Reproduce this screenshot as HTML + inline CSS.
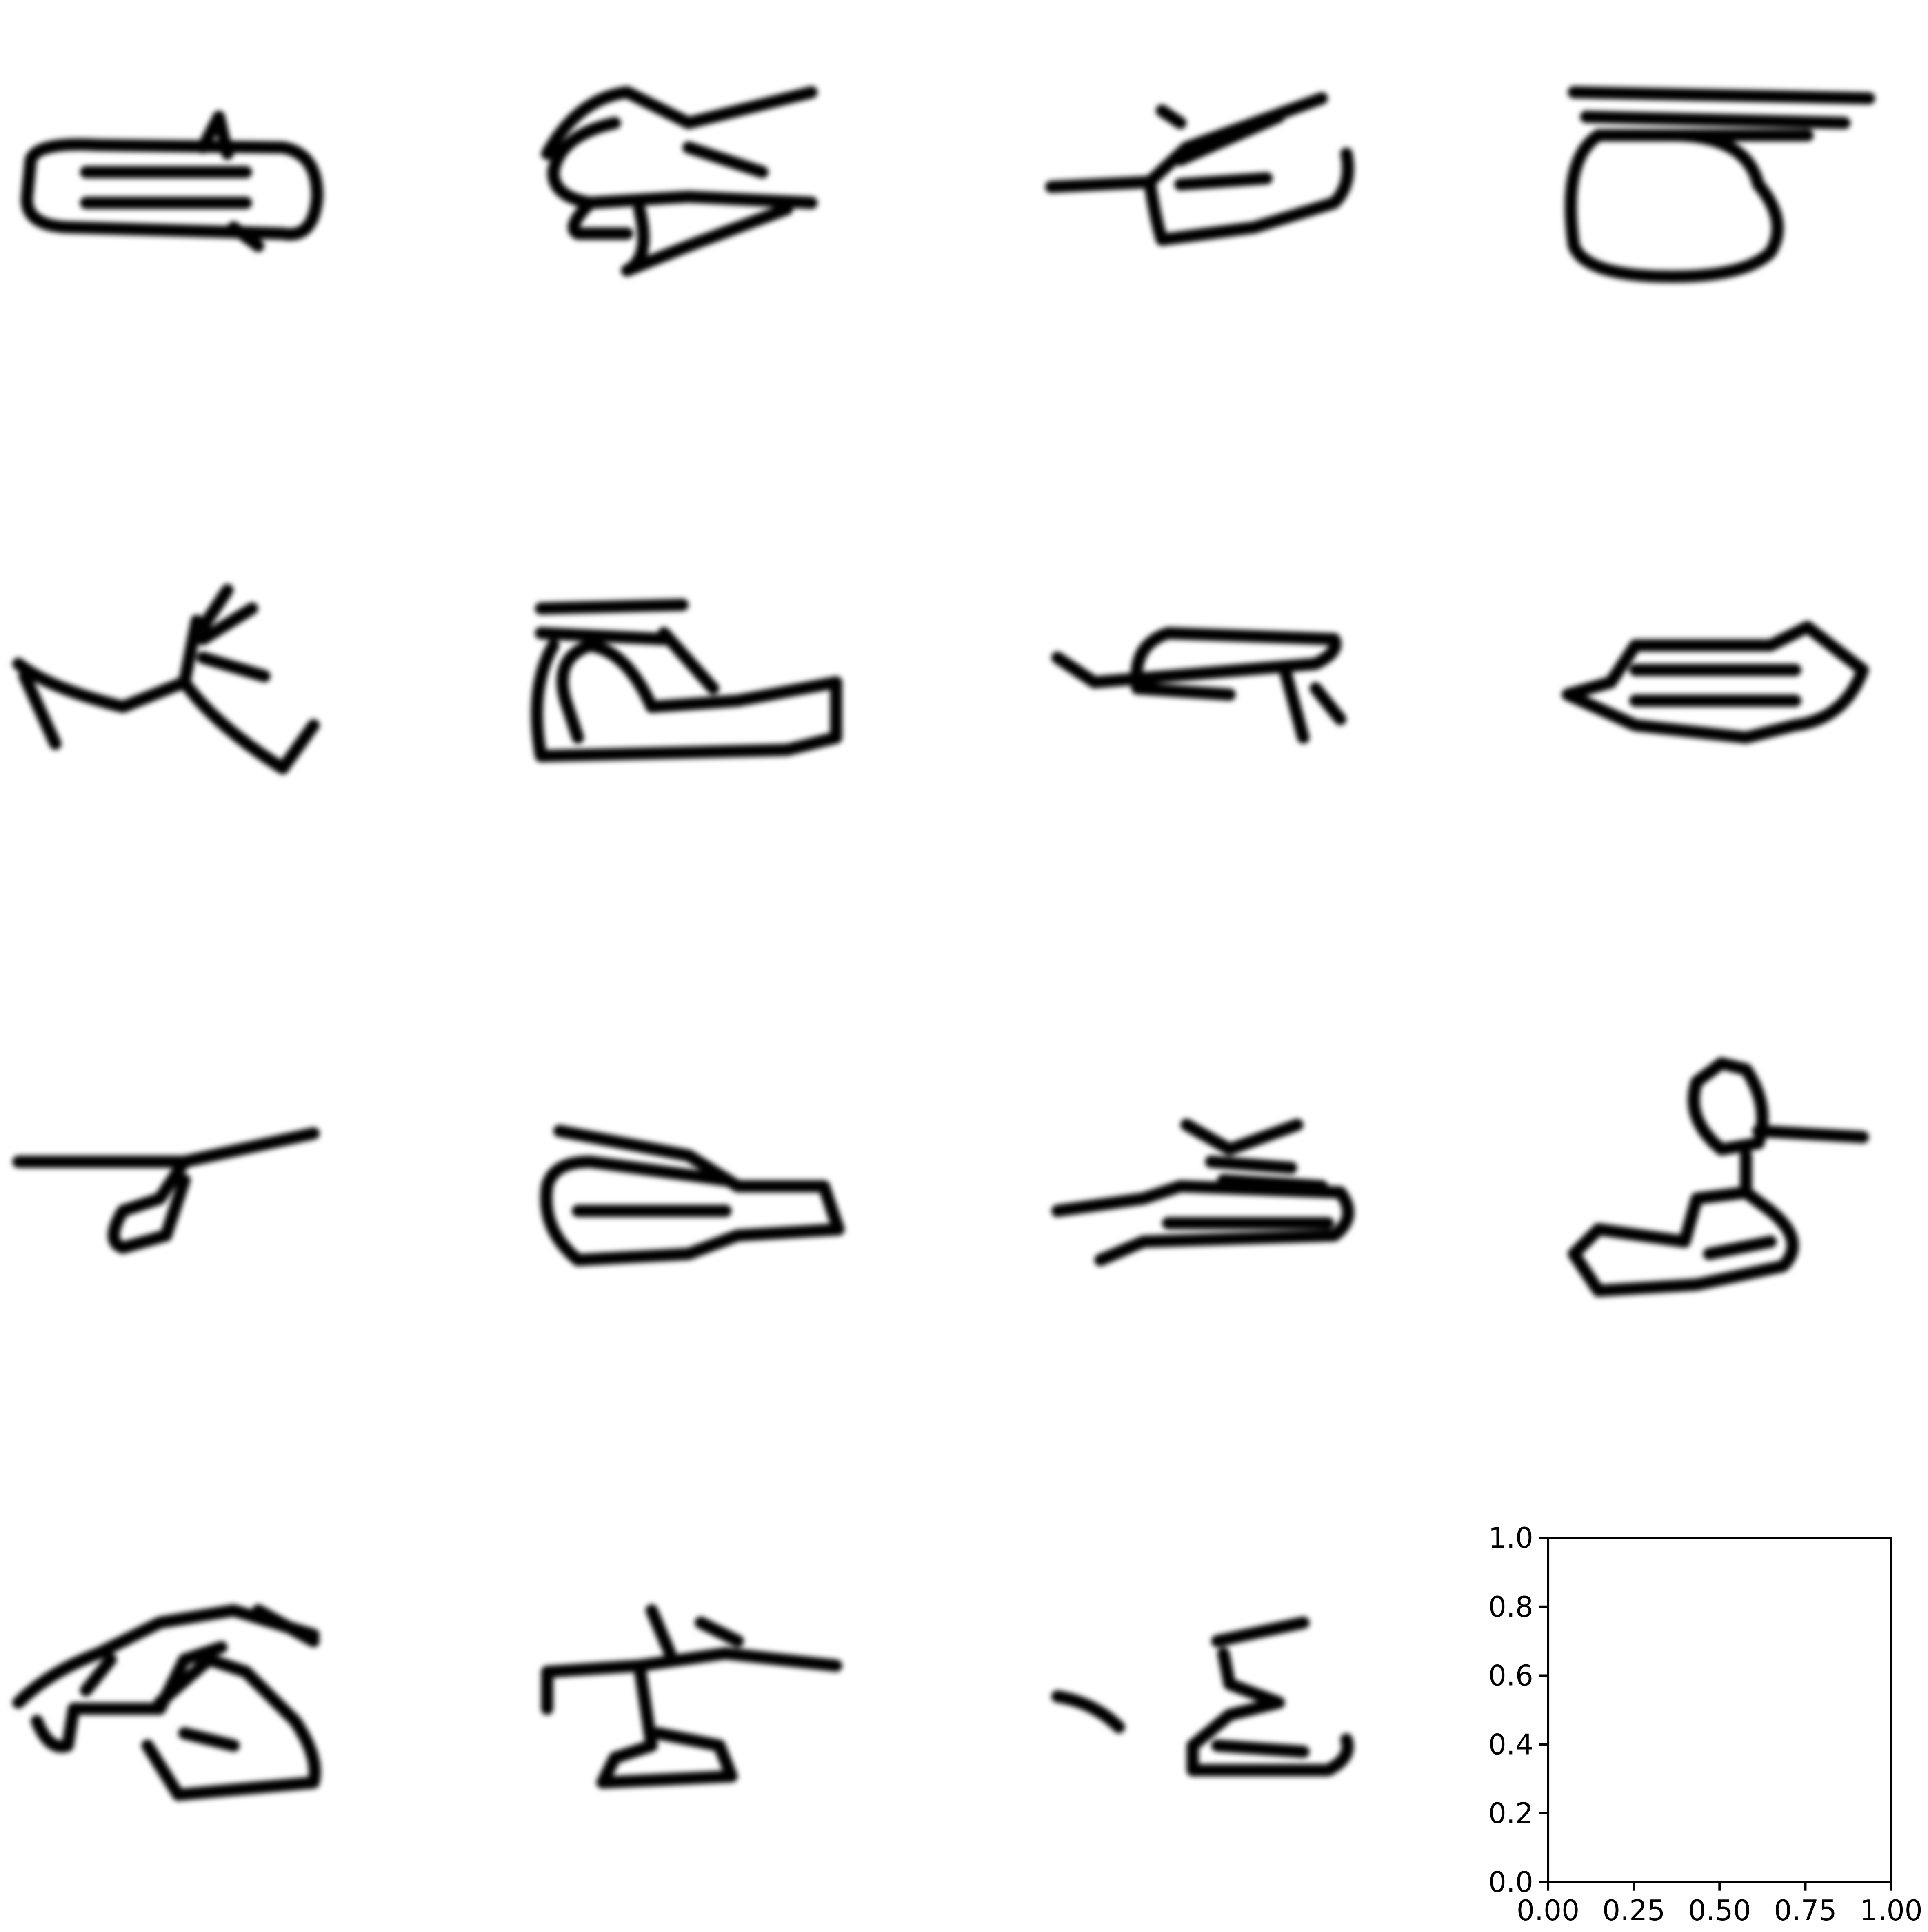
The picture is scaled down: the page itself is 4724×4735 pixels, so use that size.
<!DOCTYPE html>
<html><head><meta charset="utf-8"><style>html,body{margin:0;padding:0;background:#fff}svg{display:block}</style></head>
<body>
<svg width="4724" height="4735" viewBox="0 0 1568 1571.6" xmlns="http://www.w3.org/2000/svg">
<defs><filter id="bl" x="-10%" y="-10%" width="120%" height="120%"><feGaussianBlur stdDeviation="2.2"/></filter></defs>
<rect width="1568" height="1572" fill="#fff"/>
<g fill="none" stroke="#000" stroke-width="10" stroke-linecap="round" stroke-linejoin="round" filter="url(#bl)">
<path d="M25,130 Q30,115 80,118 L230,120 Q258,125 258,160 Q255,195 230,190 L60,185 Q20,185 22,160 Z M70,140 L200,140 M70,165 L200,165 M165,120 L178,95 L185,125 M190,185 L210,200"/>
<path d="M445,125 Q470,80 510,75 L560,100 M560,100 L660,75 M500,100 Q455,110 450,140 Q450,160 480,165 L560,160 L660,165 M560,120 L620,140 M520,170 Q530,210 510,220 L560,200 L640,170 M480,165 Q460,185 470,190 L510,190"/>
<path d="M855,152 L935,148 M935,148 L965,120 L1075,80 M945,90 L960,100 M960,130 L1040,95 M935,148 Q940,180 945,195 L1020,185 L1085,165 Q1100,150 1095,125 M960,150 L1030,145"/>
<path d="M1280,75 L1520,80 M1290,95 L1500,100 M1300,110 Q1270,130 1280,200 Q1290,225 1360,225 Q1420,225 1440,205 Q1455,180 1430,150 Q1420,110 1360,110 Z M1300,110 L1470,110"/>
<path d="M15,540 Q40,560 100,575 L150,555 Q175,590 230,625 L255,590 M150,555 L160,505 M165,510 L185,480 M165,520 L205,495 M165,535 L215,550 M20,550 L45,605"/>
<path d="M440,495 L555,492 M440,515 L540,520 M450,525 Q430,560 440,615 L640,610 L680,600 L680,555 L600,570 L530,575 Q510,530 480,525 Q450,535 460,570 L470,600 M540,515 L580,560"/>
<path d="M860,535 L890,555 L1070,540 Q1090,530 1085,520 L950,515 Q920,525 925,560 L1000,565 M1045,545 L1060,600 M1070,560 L1090,585"/>
<path d="M1275,565 L1310,555 L1330,525 L1440,525 L1470,510 L1515,545 Q1500,585 1460,590 L1420,600 L1330,590 Z M1330,545 L1460,545 M1330,570 L1460,570"/>
<path d="M15,945 L150,945 L255,922 M150,945 L130,975 L100,985 Q85,1010 100,1015 L135,1005 L150,960"/>
<path d="M455,920 L560,940 L600,965 L670,965 L682,1000 L600,1005 L560,1020 L470,1025 Q440,1000 445,965 Q450,945 480,945 L590,960 M470,985 L590,985"/>
<path d="M860,985 L930,975 L960,965 L1090,970 Q1105,990 1085,1005 L930,1010 L895,1025 M985,945 L1050,950 M965,915 L1000,935 L1055,915 M995,960 L1075,965 M950,995 L1080,995"/>
<path d="M1380,880 Q1370,910 1400,935 L1430,930 Q1440,900 1420,870 L1400,865 Z M1430,920 L1515,925 M1420,940 L1420,970 L1380,975 L1370,1010 L1300,1000 L1280,1020 L1300,1050 L1380,1045 L1450,1030 Q1470,1010 1440,985 L1420,970 M1390,1020 L1440,1010"/>
<path d="M15,1385 Q40,1360 80,1345 L130,1320 L190,1310 L255,1330 M30,1400 Q40,1425 55,1420 L60,1390 M60,1390 L130,1390 L150,1350 L180,1340 M120,1420 L145,1460 L255,1450 Q260,1430 240,1400 L200,1360 L170,1350 L130,1385 M150,1410 L190,1420 M210,1310 L255,1335 M70,1375 L90,1350"/>
<path d="M445,1360 L520,1355 L590,1345 L680,1355 M445,1360 L445,1390 M530,1310 L545,1345 M570,1320 L600,1335 M520,1355 L530,1420 L500,1430 L490,1450 L595,1445 L585,1420 L535,1410"/>
<path d="M860,1380 Q890,1385 910,1405 M990,1335 L1060,1320 M995,1345 L1000,1370 L1040,1385 L1000,1395 L970,1420 L970,1440 L1080,1440 Q1100,1430 1095,1415 M990,1420 L1060,1425"/>
</g>
<g id="ax"></g>
</svg>
<script>
const xTicks = [0, 0.25, 0.5, 0.75, 1];
const xLabels = ["0.00", "0.25", "0.50", "0.75", "1.00"];
const yTicks = [0, 0.2, 0.4, 0.6, 0.8, 1];
const yLabels = ["0.0", "0.2", "0.4", "0.6", "0.8", "1.0"];
const L = 1259, R = 1538, T = 1251, B = 1531;
const xs = v => L + v * (R - L);
const ys = v => B - v * (B - T);
const NS = "http://www.w3.org/2000/svg";
const ax = document.getElementById('ax');
function mk(tag, attrs) { const e = document.createElementNS(NS, tag); for (const k in attrs) e.setAttribute(k, attrs[k]); ax.appendChild(e); return e; }
const frame = mk('rect', {x: L, y: T, width: R - L, height: B - T, fill: 'none', stroke: '#000', 'stroke-width': 2});


xTicks.forEach((v, i) => {
  const t = mk('line', {x1: xs(v), x2: xs(v), y1: B, y2: B + 7, stroke: '#000', 'stroke-width': 2});
  
  
  const l = mk('text', {x: xs(v), y: B + 31, 'text-anchor': 'middle', 'font-size': 23, 'font-family': 'DejaVu Sans, Liberation Sans, sans-serif'});
  l.textContent = xLabels[i];
  
  
});
yTicks.forEach((v, i) => {
  const t = mk('line', {x1: L - 7, x2: L, y1: ys(v), y2: ys(v), stroke: '#000', 'stroke-width': 2});
  
  
  const l = mk('text', {x: L - 12, y: ys(v) + 8, 'text-anchor': 'end', 'font-size': 23, 'font-family': 'DejaVu Sans, Liberation Sans, sans-serif'});
  l.textContent = yLabels[i];
  
  
});
</script>
</body></html>
